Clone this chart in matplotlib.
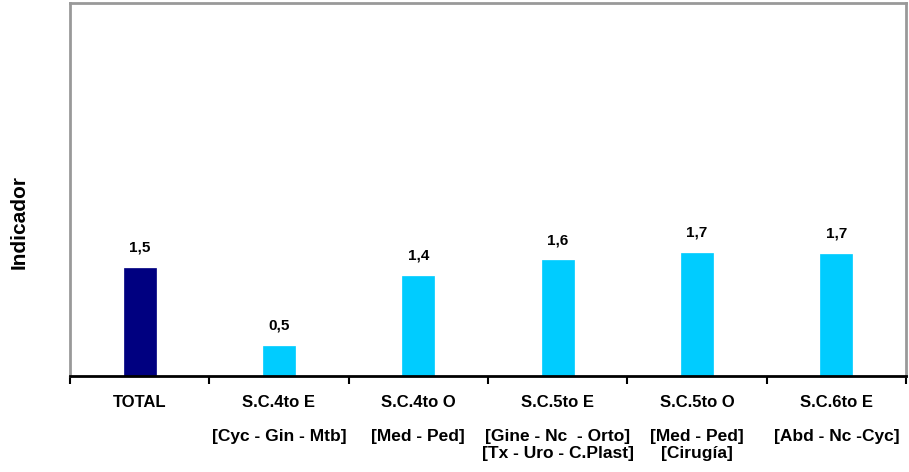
import matplotlib.pyplot as plt
from matplotlib.transforms import blended_transform_factory
import numpy as np

# Categories and values
categories = ['TOTAL', 'S.C.4to E', 'S.C.4to O', 'S.C.5to E', 'S.C.5to O', 'S.C.6to E']
services = ['', '[Cyc - Gin - Mtb]', '[Med - Ped]',
            '[Gine - Nc  - Orto]\n[Tx - Uro - C.Plast]', '[Med - Ped]\n[Cirugía]',
            '[Abd - Nc -Cyc]']
values = [1.50, 0.42, 1.39, 1.60, 1.71, 1.69]
value_labels = ['1,5', '0,5', '1,4', '1,6', '1,7', '1,7']
colors = ['#000080', '#00CCFF', '#00CCFF', '#00CCFF', '#00CCFF', '#00CCFF']

plt.rcParams['font.family'] = ['Liberation Sans', 'DejaVu Sans']

fig = plt.figure(figsize=(9.09, 4.72), dpi=100)
ax = fig.add_axes([0.077, 0.2034, 0.9197, 0.7892])

x = np.arange(len(categories))
ax.bar(x, values, width=0.23, color=colors, edgecolor=colors, linewidth=0.5)

# Value labels above the bars
for xi, v, lab in zip(x, values, value_labels):
    ax.annotate(lab, (xi, v), xytext=(0, 20), textcoords='offset pixels',
                ha='center', va='center', fontsize=11, fontweight='bold')

ax.set_xlim(-0.5, len(categories) - 0.5)
ax.set_ylim(0, 5.16)
ax.set_yticks([])

# Category labels (first line as tick labels)
ax.set_xticks(x)
ax.set_xticklabels(categories, fontsize=12, fontweight='bold')
ax.tick_params(axis='x', which='major', length=0, pad=14)
ax.set_xticks(np.arange(len(categories) + 1) - 0.5, minor=True)
ax.tick_params(axis='x', which='minor', length=6, width=1.5, color='black', direction='out')

# Second line with the services
trans = blended_transform_factory(ax.transData, ax.transAxes)
for xi, s in zip(x, services):
    if s:
        ax.text(xi, -0.142, s, transform=trans, ha='center', va='top',
                fontsize=12.5, fontweight='bold', linespacing=1.2)

for side in ['left', 'top', 'right']:
    ax.spines[side].set_color('#999999')
    ax.spines[side].set_linewidth(2)
ax.spines['bottom'].set_color('black')
ax.spines['bottom'].set_linewidth(2)

ax.set_ylabel('Indicador', fontsize=15, fontweight='bold')
ax.yaxis.set_label_coords(-0.049, 0.413)

plt.savefig('out.png', dpi=100)
